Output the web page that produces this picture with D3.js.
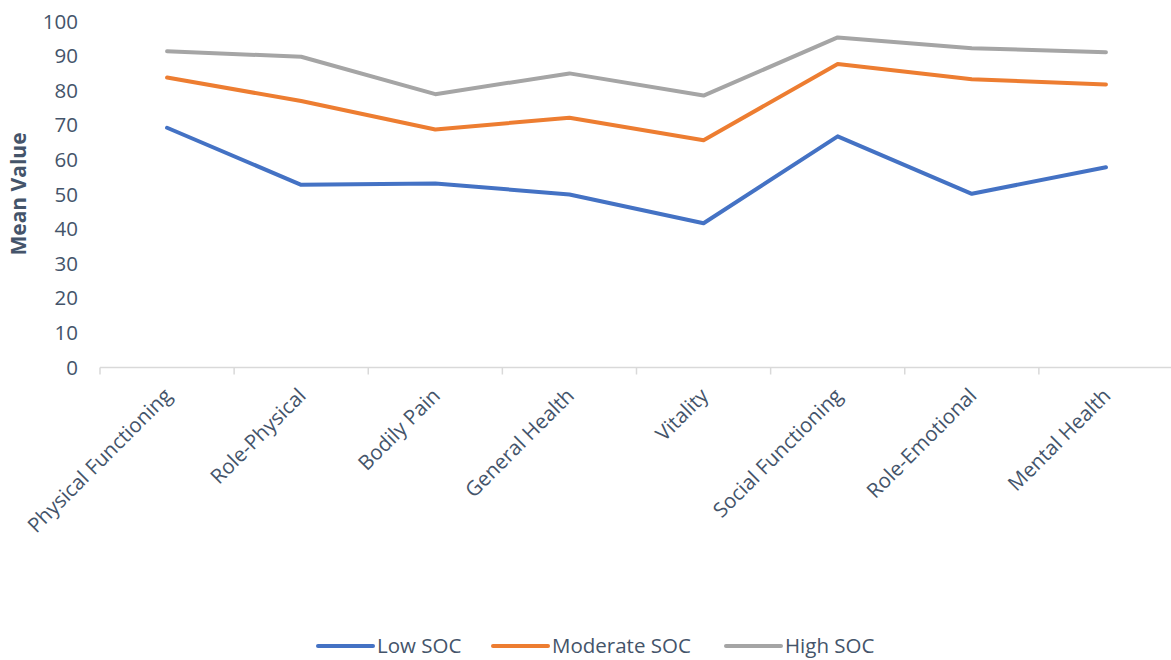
<!DOCTYPE html>
<html>
<head>
<meta charset="utf-8">
<script src="https://cdn.jsdelivr.net/npm/d3@7"></script>
<style>
  body { margin: 0; background: #fff; }
  svg text { font-family: "Open Sans", sans-serif; fill: #44546A; }
</style>
</head>
<body>
<svg id="chart" width="1171" height="660"></svg>
<script>
"use strict";

const categories = ["Physical Functioning", "Role-Physical", "Bodily Pain", "General Health",
  "Vitality", "Social Functioning", "Role-Emotional", "Mental Health"];
const lowSOC = [69.3, 52.8, 53.2, 50.0, 41.7, 66.8, 50.2, 57.9];
const moderateSOC = [83.8, 77.0, 68.8, 72.2, 65.7, 87.7, 83.3, 81.8];
const highSOC = [91.4, 89.8, 79.0, 85.0, 78.6, 95.4, 92.3, 91.1];
const yTicks = [0, 10, 20, 30, 40, 50, 60, 70, 80, 90, 100];

const seriesList = [
  { name: "Low SOC", values: lowSOC, color: "#4472C4" },
  { name: "Moderate SOC", values: moderateSOC, color: "#ED7D31" },
  { name: "High SOC", values: highSOC, color: "#A5A5A5" }
];

const svg = d3.select("#chart");
const plotLeft = 100, plotRight = 1173, plotTop = 21.5, plotBottom = 367.5;

const xScale = d3.scaleBand().domain(categories).range([plotLeft, plotRight]);
const yScale = d3.scaleLinear().domain([0, 100]).range([plotBottom, plotTop]);

// y axis labels (no line)
svg.append("g")
  .selectAll("text")
  .data(yTicks)
  .enter()
  .append("text")
  .attr("x", 78)
  .attr("y", d => yScale(d))
  .attr("dy", "0.35em")
  .attr("text-anchor", "end")
  .style("font-size", "20.5px")
  .text(d => d);

// x axis line + boundary ticks
const xAxis = svg.append("g");
xAxis.append("line")
  .attr("x1", plotLeft).attr("x2", plotRight)
  .attr("y1", plotBottom).attr("y2", plotBottom)
  .attr("stroke", "#D9D9D9").attr("stroke-width", 1.5);
xAxis.selectAll("line.tick")
  .data(categories)
  .enter()
  .append("line")
  .attr("class", "tick")
  .attr("x1", d => xScale(d)).attr("x2", d => xScale(d))
  .attr("y1", plotBottom).attr("y2", plotBottom + 7)
  .attr("stroke", "#D9D9D9").attr("stroke-width", 1.5);

xAxis.selectAll("text")
  .data(categories)
  .enter()
  .append("text")
  .attr("transform", d => `translate(${xScale(d) + xScale.bandwidth() / 2 + 6}, 397) rotate(-45)`)
  .attr("text-anchor", "end")
  .style("font-size", "20.5px")
  .text(d => d);

// y title
svg.append("text")
  .attr("transform", `translate(26, 194) rotate(-90)`)
  .attr("text-anchor", "middle")
  .style("font-size", "21px")
  .style("font-weight", "bold")
  .text("Mean Value");

// lines
const line = d3.line()
  .x((d, i) => xScale(categories[i]) + xScale.bandwidth() / 2)
  .y(d => yScale(d));

svg.append("g")
  .selectAll("path")
  .data(seriesList)
  .enter()
  .append("path")
  .attr("d", s => line(s.values))
  .attr("fill", "none")
  .attr("stroke", s => s.color)
  .attr("stroke-width", 4)
  .attr("stroke-linecap", "round")
  .attr("stroke-linejoin", "round");

// legend
const legendX = [318, 493, 726];
const legend = svg.append("g")
  .selectAll("g")
  .data(seriesList)
  .enter()
  .append("g")
  .attr("transform", (d, i) => `translate(${legendX[i]}, 646)`);
legend.append("line")
  .attr("x1", 0).attr("x2", 55)
  .attr("y1", 0).attr("y2", 0)
  .attr("stroke", d => d.color)
  .attr("stroke-width", 4)
  .attr("stroke-linecap", "round");
legend.append("text")
  .attr("x", 59)
  .attr("dy", "0.35em")
  .style("font-size", "20.5px")
  .text(d => d.name);
</script>
</body>
</html>
